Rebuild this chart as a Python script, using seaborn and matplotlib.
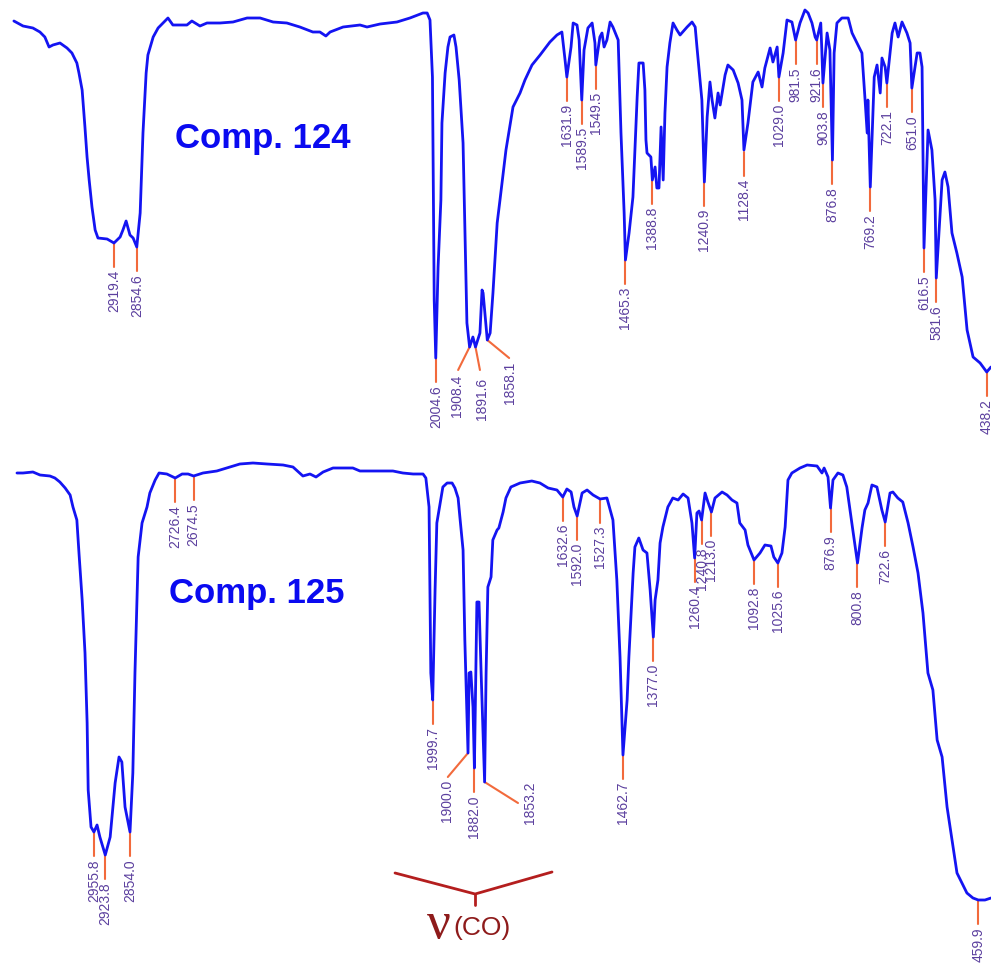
import matplotlib
matplotlib.use("Agg")
import matplotlib.pyplot as plt
import seaborn as sns
import pandas as pd

# ---------------- data: Comp. 124 (wavenumber cm-1, transmittance a.u.) ----------------
wn_124 = [3204, 3178, 3150, 3130, 3116, 3104, 3093, 3073, 3053, 3039, 3025, 3019, 3010, 3002,
          2996, 2990, 2982, 2973, 2965, 2939, 2919.4, 2902, 2894, 2885, 2874, 2865, 2854.6, 2845,
          2837, 2828, 2823, 2808, 2794, 2780, 2766, 2752, 2732, 2712, 2698, 2675, 2655, 2618,
          2581, 2541, 2504, 2467, 2428, 2391, 2354, 2334, 2317, 2305, 2268, 2220, 2200, 2163,
          2115, 2078, 2041, 2029, 2021, 2014, 2009, 2004.6, 1998, 1990, 1987, 1978, 1970, 1964,
          1953, 1947, 1938, 1927, 1921, 1916, 1908.4, 1899, 1891.6, 1879, 1873, 1870, 1858.1,
          1850, 1842, 1830, 1822, 1805, 1785, 1765, 1751, 1731, 1708, 1680, 1660, 1646, 1637,
          1631.9, 1620, 1614, 1603, 1597, 1589.5, 1583, 1572, 1560, 1552, 1549.5, 1538, 1532,
          1526, 1518, 1509, 1501, 1486, 1478, 1469, 1465.3, 1455, 1444, 1432, 1427, 1415, 1410,
          1407, 1404, 1393, 1388.8, 1381, 1376, 1370, 1364, 1358, 1353, 1347, 1339, 1330, 1319,
          1310, 1290, 1276, 1267, 1262, 1248, 1240.9, 1233, 1225, 1219, 1211, 1202, 1196, 1182,
          1174, 1159, 1145, 1134, 1128.4, 1117, 1103, 1088, 1077, 1069, 1054, 1046, 1034, 1029.0,
          1017, 1006, 992, 981.5, 969, 955, 946, 935, 926, 921.6, 910, 907, 903.8, 892, 884,
          876.8, 872, 864, 850, 832, 821, 807, 793, 784, 778, 776, 772, 769.2, 758, 750, 741,
          736, 727, 722.1, 707, 699, 690, 679, 665, 656, 651.0, 636, 628, 622, 616.5, 605, 594,
          585, 581.6, 565, 557, 548, 537, 523, 508, 494, 477, 457, 438.2, 426]
t_124 = [419, 414, 412, 408, 403, 393, 395, 397, 392, 387, 377, 367, 350, 313,
         283, 260, 233, 210, 202, 201, 197, 203, 210, 219, 205, 202, 193, 227,
         307, 367, 385, 403, 412, 417, 422, 415, 415, 415, 419, 414, 417, 417,
         418, 422, 422, 418, 417, 413, 408, 408, 404, 408, 413, 415, 413, 416,
         418, 422, 427, 427, 420, 363, 140, 82, 173, 240, 317, 367, 393, 403,
         405, 393, 360, 297, 200, 117, 93, 103, 93, 107, 150, 147, 100,
         107, 147, 217, 240, 290, 333, 347, 360, 375, 385, 398, 405, 408, 380,
         363, 393, 417, 415, 400, 340, 390, 412, 417, 397, 375, 403, 407,
         393, 400, 418, 413, 400, 307, 227, 180, 207, 243, 343, 377, 377, 350,
         300, 287, 283, 260, 273, 252, 252, 313, 260, 327, 373, 397, 417, 410,
         405, 413, 418, 413, 393, 340, 258, 323, 358, 340, 322, 347, 335, 365,
         375, 370, 357, 340, 290, 317, 358, 368, 353, 372, 392, 378, 393, 363,
         387, 420, 418, 400, 417, 430, 427, 417, 403, 400, 417, 390, 357, 407, 390,
         280, 387, 417, 422, 422, 407, 397, 387, 340, 307, 340, 287, 253, 363, 375, 347,
         382, 373, 357, 407, 417, 403, 418, 407, 397, 352, 387, 387, 373, 192, 310, 290,
         240, 162, 260, 268, 253, 207, 187, 163, 110, 83, 77, 68, 73]

peaks_124 = [2919.4, 2854.6, 2004.6, 1908.4, 1891.6, 1858.1, 1631.9, 1589.5, 1549.5, 1465.3,
             1388.8, 1240.9, 1128.4, 1029.0, 981.5, 921.6, 903.8, 876.8, 769.2, 722.1, 651.0,
             616.5, 581.6, 438.2]
peak_t_124 = [197, 193, 82, 93, 93, 100, 363, 340, 375, 180, 260, 258, 288, 363, 400, 400, 357,
              280, 253, 357, 352, 192, 162, 68]

# ---------------- data: Comp. 125 ----------------
wn_125 = [3173, 3156, 3128, 3108, 3080, 3066, 3052, 3037, 3023, 3015, 3004, 2998, 2989, 2981,
          2975, 2972, 2964, 2955.8, 2947, 2939, 2923.8, 2910, 2896, 2885, 2877, 2868, 2854.0,
          2846, 2840, 2831, 2820, 2806, 2798, 2783, 2772, 2750, 2726.4, 2707, 2690, 2674.5,
          2648, 2609, 2572, 2544, 2507, 2467, 2422, 2394, 2366, 2346, 2329, 2309, 2281, 2225,
          2205, 2112, 2084, 2055, 2027, 2019, 2010, 2005, 1999.7, 1993, 1988, 1976, 1971, 1959,
          1945, 1937, 1928, 1923, 1914, 1909, 1900.0, 1897, 1892, 1886, 1882.0, 1875, 1869,
          1863, 1853.2, 1849, 1844, 1835, 1830, 1818, 1813, 1801, 1793, 1779, 1753, 1720, 1697,
          1674, 1649, 1632.6, 1621, 1609, 1601, 1592.0, 1578, 1564, 1547, 1527.3, 1508, 1491,
          1480, 1471, 1462.7, 1451, 1446, 1434, 1429, 1418, 1406, 1395, 1386, 1377.0, 1372,
          1364, 1358, 1350, 1336, 1322, 1307, 1293, 1279, 1268, 1260.4, 1254, 1248, 1240.8,
          1231, 1223, 1213.0, 1203, 1183, 1169, 1155, 1141, 1133, 1118, 1110, 1092.8, 1076,
          1062, 1045, 1037, 1025.6, 1014, 1005, 997, 986, 963, 943, 915, 901, 895, 884, 876.9,
          870, 856, 842, 831, 822, 814, 800.8, 788, 780, 771, 760, 746, 732, 722.6, 709, 701,
          687, 673, 658, 644, 630, 616, 602, 588, 576, 562, 548, 534, 520, 506, 492, 475,
          459.9, 441, 424]
t_125 = [495, 495, 496, 493, 492, 490, 486, 480, 473, 461, 448, 415, 368, 315,
         245, 178, 141, 136, 143, 131, 113, 131, 185, 211, 206, 161, 136,
         195, 295, 411, 445, 461, 475, 488, 495, 494, 490, 494, 494, 492,
         495, 497, 501, 504, 505, 504, 503, 501, 492, 494, 491, 496, 500, 500,
         497, 497, 495, 494, 494, 490, 461, 295, 268, 378, 445, 470, 481, 485,
         485, 480, 470, 451, 418, 328, 215, 295, 296, 261, 200, 366, 366,
         295, 186, 295, 381, 391, 428, 438, 440, 456, 470, 481, 485, 487, 485,
         480, 478, 471, 479, 476, 461, 452, 475, 478, 473, 469, 470, 448,
         388, 311, 213, 268, 311, 395, 421, 430, 418, 415, 378, 331, 368,
         388, 425, 441, 461, 470, 468, 474, 470, 445, 410, 455, 457, 448,
         475, 466, 456, 470, 476, 473, 468, 465, 445, 438, 423, 408, 415,
         423, 422, 411, 405, 415, 441, 488, 495, 500, 503, 502, 495, 500, 491, 460,
         488, 495, 493, 481, 458, 438, 405, 440, 458, 465, 483, 481, 458, 446, 475, 476,
         470, 466, 445, 421, 395, 355, 295, 278, 228, 211, 161, 128, 95, 85, 75, 70,
         68, 68, 70]

peaks_125 = [2955.8, 2923.8, 2854.0, 2726.4, 2674.5, 1999.7, 1900.0, 1882.0, 1853.2, 1632.6,
             1592.0, 1527.3, 1462.7, 1377.0, 1260.4, 1240.8, 1213.0, 1092.8, 1025.6, 876.9,
             800.8, 722.6, 459.9]
peak_t_125 = [136, 113, 136, 490, 492, 268, 215, 200, 186, 471, 452, 469, 213, 331, 410, 448,
              456, 408, 405, 460, 405, 446, 68]

# slanted leaders for crowded carbonyl peaks: peak -> (line end x, line end y, label x, label top)
leaders_124 = {1908.4: (1941, 70, 1944, 65), 1891.6: (1879, 70, 1873, 62),
               1858.1: (1796, 82, 1793, 78)}
leaders_125 = {1900.0: (1957, 191, 1959, 188), 1853.2: (1759, 165, 1725, 186)}

LINE = "#1414F2"
TICK = "#F26A3C"
LABEL = "#5B3F9E"
DARKRED = "#8E1B1B"

sns.set_style("white")
plt.rcParams["font.family"] = ["Liberation Sans", "DejaVu Sans"]

fig = plt.figure(figsize=(9.91, 9.68), dpi=100)
ax1 = fig.add_axes([0, 528 / 968, 1, 440 / 968])
ax2 = fig.add_axes([0, 0, 1, 528 / 968])


def draw(ax, wn, t, peaks, peak_t, leaders, xlim, ylim):
    df = pd.DataFrame({"wavenumber": wn, "T": t})
    sns.lineplot(data=df, x="wavenumber", y="T", ax=ax, sort=False, estimator=None,
                 color=LINE, linewidth=2.0, zorder=3)
    for p, pt in zip(peaks, peak_t):
        if p in leaders:
            lx, ly, tx, ty = leaders[p]
            ax.plot([p, lx], [pt, ly], color=TICK, linewidth=1.5, zorder=2)
        else:
            ax.plot([p, p], [pt, pt - 24], color=TICK, linewidth=1.5, zorder=2)
            tx, ty = p, pt - 27
        ax.text(tx, ty, f"{p:.1f}", rotation=90, ha="center", va="top",
                fontsize=10, color=LABEL, zorder=4)
    ax.set_xlim(*xlim)
    ax.set_ylim(*ylim)
    ax.set_axis_off()


draw(ax1, wn_124, t_124, peaks_124, peak_t_124, leaders_124, (3243.5, 426), (0, 440))
draw(ax2, wn_125, t_125, peaks_125, peak_t_125, leaders_125, (3220.9, 424), (0, 528))

ax1.text(2496, 292, "Comp. 124", ha="center", va="baseline", fontsize=25,
         fontweight="bold", color="#0A0AF0")
ax2.text(2496, 365, "Comp. 125", ha="center", va="baseline", fontsize=25,
         fontweight="bold", color="#0A0AF0")

# nu(CO) bracket
bracket_x = [2106, 1880, 1663]
bracket_y = [95, 74, 96]
ax2.plot(bracket_x, bracket_y, color="#B41E1E", linewidth=2.0, solid_joinstyle="miter")
ax2.plot([1880, 1880], [74, 63], color="#B41E1E", linewidth=2.0)
ax2.text(1982, 30, "ν", ha="center", va="baseline", fontsize=38, color=DARKRED,
         family=["Liberation Serif", "DejaVu Serif"])
ax2.text(1942, 33, "(CO)", ha="left", va="baseline", fontsize=19, color=DARKRED)

fig.savefig("out.png", dpi=100)
